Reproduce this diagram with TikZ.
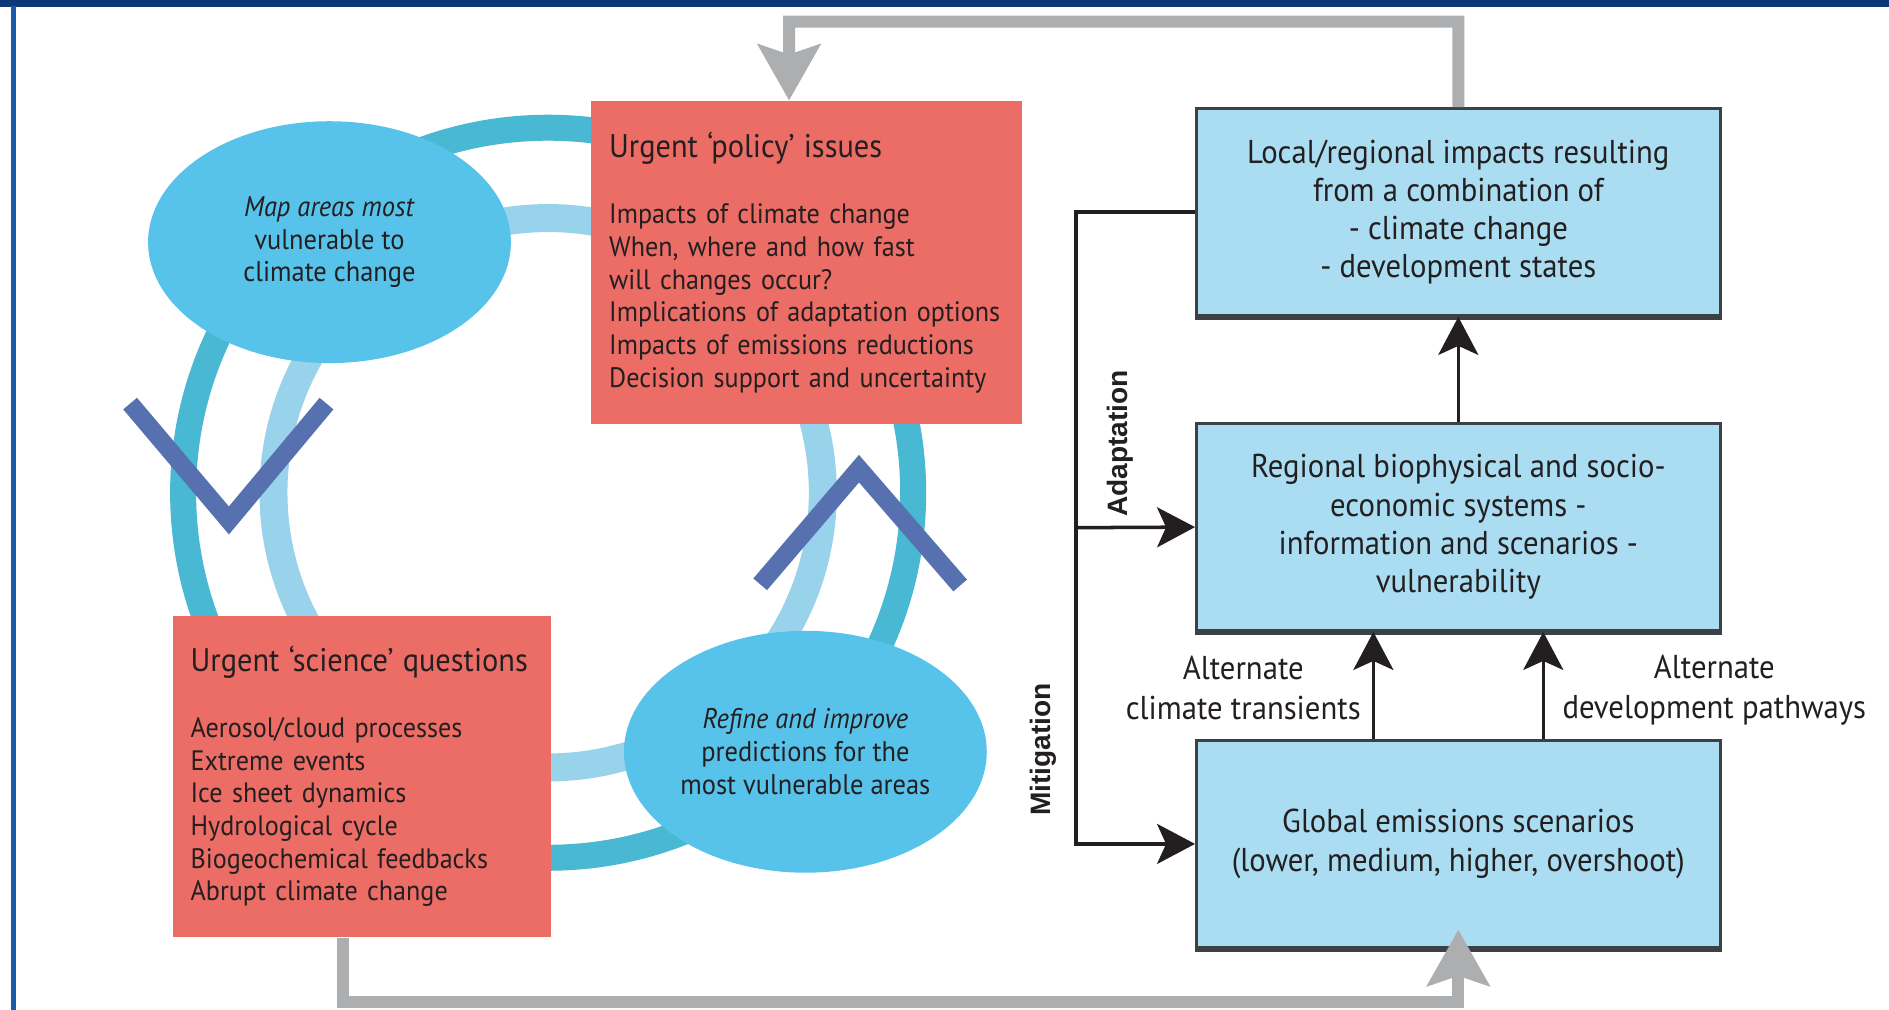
\documentclass[tikz,border=0pt]{standalone}
\usepackage{fontspec}
\setmainfont[FakeStretch=0.93]{PT Sans}
\newfontfamily\labelfont{Liberation Sans}
\usepackage{xcolor}
\usetikzlibrary{arrows.meta}
\usetikzlibrary{shapes.geometric}
\definecolor{navy}{HTML}{0C3877}
\definecolor{edgeblue}{HTML}{1C5AAA}
\definecolor{ringdark}{HTML}{49B8D2}
\definecolor{ringlight}{HTML}{98D3EB}
\definecolor{taskblue}{HTML}{58C3EA}
\definecolor{issuered}{HTML}{EC6C66}
\definecolor{chevblue}{HTML}{5670B0}
\definecolor{stageblue}{HTML}{AADDF2}
\definecolor{boxline}{HTML}{3C4146}
\definecolor{linkgray}{HTML}{ADAEB0}
\definecolor{ink}{HTML}{231F20}
\hyphenpenalty=10000
\exhyphenpenalty=10000

\begin{document}
\begin{tikzpicture}[x=0.012047cm,y=-0.012047cm]
\tikzset{>={Stealth[length=0.38cm,width=0.4cm,inset=0.09cm]}}
\tikzstyle{issue}=[rectangle,fill=issuered,inner xsep=0.18cm,inner ysep=0pt,align=left,text=ink,font=\fontsize{8}{9.3}\selectfont]
\tikzstyle{task}=[ellipse,fill=taskblue,inner sep=0pt,minimum width=3.63cm,minimum height=2.42cm,align=center,text=ink,font=\fontsize{8.1}{9.3}\selectfont]
\tikzstyle{stage}=[rectangle,draw=boxline,line width=0.8pt,fill=stageblue,minimum width=5.24cm,minimum height=2.07cm,align=center,text=ink,font=\fontsize{9.4}{10.9}\selectfont]
\tikzstyle{outerring}=[draw=ringdark,line width=0.26cm]
\tikzstyle{innerring}=[draw=ringlight,line width=0.28cm]
\tikzstyle{chevron}=[draw=chevblue,line width=0.18cm,miter limit=10]
\tikzstyle{feedback}=[draw=linkgray,line width=0.12cm,-{Stealth[length=0.56cm,width=0.62cm,inset=0.1cm]}]
\tikzstyle{link}=[draw=ink,line width=1pt]
\tikzstyle{flowlabel}=[align=center,text=ink,font=\fontsize{9.4}{11.5}\selectfont]
\tikzstyle{sidelabel}=[rotate=90,text=ink,font=\labelfont\bfseries\fontsize{8}{9}\selectfont]

\useasboundingbox (0,0) rectangle (1568,838);
\fill[white] (0,0) rectangle (1568,838);
\fill[navy] (0,0) rectangle (1568,5.5);
\fill[edgeblue] (9,5) rectangle (13,838);

\coordinate (hub) at (455,409);
\draw[outerring] (hub) circle[radius=303];
\draw[innerring] (hub) circle[radius=228];

\draw[chevron] (108,335) -- (190,432) -- (271,335);
\draw[chevron] (631,485) -- (713,389) -- (797,486);

\node[task](map) at (273.5,201){\textit{Map areas most}\\vulnerable to\\climate change};
\node[task](refine) at (668.5,624){\textit{Refine and improve}\\predictions for the\\most vulnerable areas};

\node[issue,text width=3.95cm,minimum height=3.23cm](policy) at (669.5,218){{\fontsize{9.3}{11}\selectfont Urgent ‘policy’ issues}\\[9.5pt]
Impacts of climate change\\When, where and how fast\\will changes occur?\\Implications of adaptation options\\Impacts of emissions reductions\\Decision support and uncertainty};
\node[issue,text width=3.43cm,minimum height=3.22cm](sci) at (300.5,644.5){{\fontsize{9.3}{11}\selectfont Urgent ‘science’ questions}\\[9.5pt]
Aerosol/cloud processes\\Extreme events\\Ice sheet dynamics\\Hydrological cycle\\Biogeochemical feedbacks\\Abrupt climate change};

\node[stage](local) at (1210.5,176){Local/regional impacts resulting\\from a combination of\\- climate change\\- development states};
\node[stage](reg) at (1210.5,437.5){Regional biophysical and socio-\\economic systems -\\information and scenarios -\\vulnerability};
\node[stage](glob) at (1210.5,700.5){Global emissions scenarios\\(lower, medium, higher, overshoot)};
\foreach \b in {local,reg,glob}
  \draw[boxline,line width=1.8pt] (\b.south west) -- (\b.south east);

\coordinate (poltop) at (655,18);
\coordinate (globfoot) at (1210.5,832);
\draw[feedback] (local.north) |- (poltop) -- ([xshift=-0.175cm]policy.north);
\draw[feedback] ([xshift=-0.187cm]sci.south) |- (globfoot) -- ([yshift=0.19cm]glob.south);

\coordinate (adbend) at (893,176);
\coordinate (adsplit) at (893,438);
\draw[link,->] (local.west) -- (adbend) |- (glob.west);
\draw[link,->] (adsplit) -- (reg.west);
\draw[link,->] (reg.north) -- (local.south);
\draw[link,->] ([xshift=-0.85cm]glob.north) -- ([xshift=-0.85cm]reg.south);
\draw[link,->] ([xshift=0.85cm]glob.north) -- ([xshift=0.85cm]reg.south);

\node[flowlabel](climlab) at (1032,571){Alternate\\climate transients};
\node[flowlabel](devlab) at (1423,573){Alternate\\development pathways};
\node[sidelabel](adlab) at (930,368){Adaptation};
\node[sidelabel](mitlab) at (866,622){Mitigation};
\end{tikzpicture}
\end{document}
